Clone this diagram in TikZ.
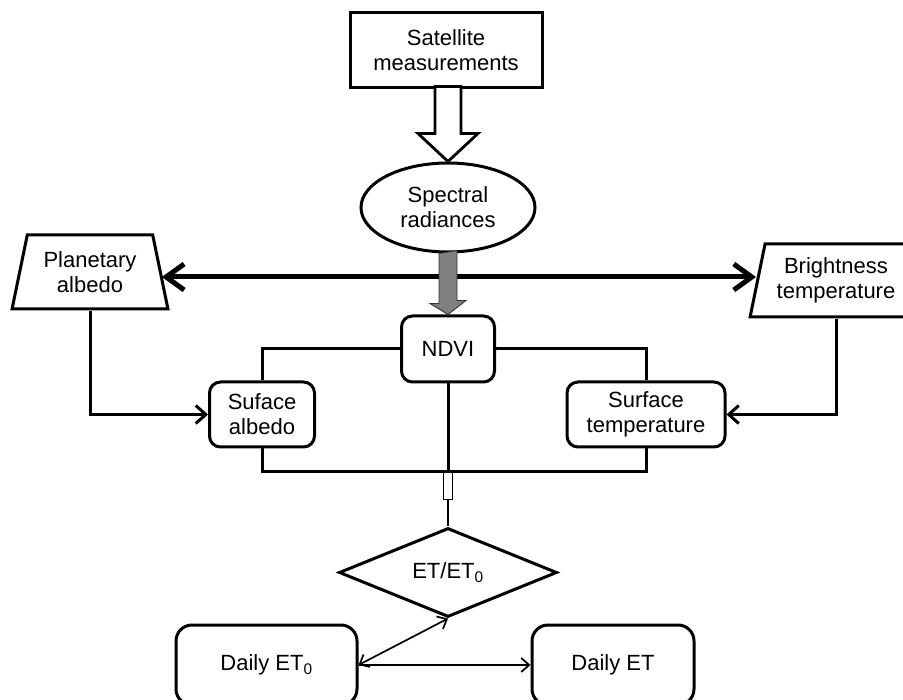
\documentclass[tikz,border=0pt]{standalone}
\usepackage{fontspec}
\setmainfont{Liberation Sans}
\usepackage{tikz}
\usetikzlibrary{arrows.meta,shapes.geometric}
\tikzset{
  et diagram/.style={font=\fontsize{22}{25}\selectfont, x=1pt, y=-1pt},
  et box/.style={draw, fill=white, line width=3pt, align=center, inner sep=4pt},
  et round/.style={et box, rounded corners=11pt},
  et data/.style={et box, trapezium, trapezium left angle=76,
    trapezium right angle=76, trapezium stretches=true},
  et link/.style={draw, line width=3pt},
  et arrow/.style={et link, >={Straight Barb[length=10pt,width=18pt]}, ->},
  et wide/.style={draw, line width=5pt,
    >={Straight Barb[length=18pt,width=26pt]}, <->},
  et thin/.style={draw, line width=1.7pt, >={Straight Barb[length=8pt,width=14pt]}},
  et hollow/.style={draw, fill=white, line width=2.8pt},
  et shade/.style={draw=black!80, fill=black!50, line width=0.9pt},
  et plug/.style={draw, fill=white, line width=0.9pt, minimum width=9pt,
    minimum height=27pt, inner sep=0pt}
}

\begin{document}
\begin{tikzpicture}[et diagram]
\useasboundingbox (0,0) rectangle (903,700);
\node[et box, minimum width=192pt, minimum height=75pt] (sat) at (446,50.5) {Satellite\\measurements};
\node[et box, ellipse, minimum width=174pt, minimum height=89pt, inner sep=0pt] (spec) at (448,207.5) {Spectral\\radiances};
\node[et data, minimum width=156pt, minimum height=74pt] (pa) at (90,272) {Planetary\\albedo};
\node[et data, minimum width=172pt, minimum height=73pt] (bt) at (836,280.5) {Brightness\\temperature};
\node[et round, minimum width=93pt, minimum height=66pt] (ndvi) at (448,349) {NDVI};
\node[et round, minimum width=105pt, minimum height=65pt] (sa) at (262,414.5) {Suface\\albedo};
\node[et round, minimum width=158pt, minimum height=65pt] (st) at (646,414.5) {Surface\\temperature};
\coordinate (hub) at (448,277);
\coordinate (join) at (448,472);
\node[et plug, anchor=north] (plug) at (join) {};
\node[et box, diamond, aspect=2.4, minimum width=218pt, minimum height=89pt, inner sep=0pt] (ratio) at (448,572.5) {ET/ET\textsubscript{0}};
\node[et round, rounded corners=16pt, minimum width=181pt, minimum height=80pt] (d0) at (266.5,665) {Daily ET\textsubscript{0}};
\node[et round, rounded corners=16pt, minimum width=162pt, minimum height=80pt] (det) at (613,665) {Daily ET};

% top block arrows
\draw[et hollow] (spec.north) -- ++(-30,-28) -- ++(17,0) -- ++(0,-47) -- ++(26,0) -- ++(0,47) -- ++(17,0) -- cycle;
\draw[et wide] (pa.east |- hub) -- (bt.west |- hub);
\draw[et shade] (spec.south) ++(-9,0) -- ++(0,50) -- ++(-9,0) -- (ndvi.north) -- ++(18,-14) -- ++(-9,0) -- ++(0,-50) -- cycle;

% links around NDVI
\draw[et arrow] (pa.south) |- (sa.west);
\draw[et arrow] (bt.south) |- (st.east);
\draw[et link] (ndvi.west) -| (sa.north);
\draw[et link] (ndvi.east) -| (st.north);
\draw[et link] (sa.south) |- (join) -| (st.south);
\draw[et link] (ndvi.south) -- (join);
\draw[et thin] (plug.south) -- (ratio.north);

% daily values
\draw[et thin, <->] (d0.east) -- (ratio.south);
\draw[et thin, ->] (d0.east) -- (det.west);
\end{tikzpicture}
\end{document}
